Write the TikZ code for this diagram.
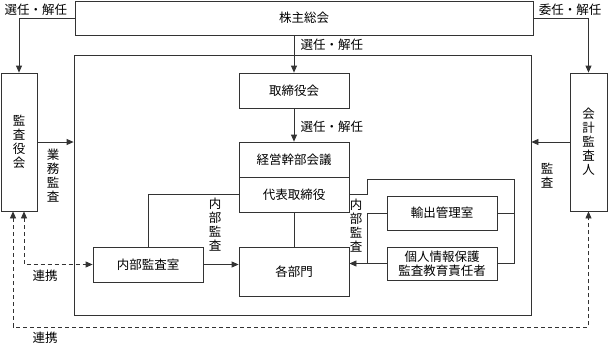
\documentclass[tikz,border=0pt]{standalone}
\usepackage{fontspec}
\setmainfont{Noto Sans CJK JP}
\usetikzlibrary{arrows.meta}

\begin{document}
\begin{tikzpicture}[x = 1pt, y = -1pt,
        every node/.style = {font = \fontsize{12.5}{14}\selectfont},
        box/.style = {draw = black!80, line width = 0.8pt, inner sep = 0pt, minimum width = 110pt, minimum height = 35pt, align = center},
        line/.style = {draw = black!80, line width = 0.8pt},
        arr/.style = {line, -{Triangle[length = 7pt, width = 6pt]}},
        link/.style = {line, dash pattern = on 4pt off 3pt, {Triangle[length = 7pt, width = 6pt]}-{Triangle[length = 7pt, width = 6pt]}},
        tate/.style = {align = center, inner sep = 0pt}]
        \useasboundingbox (0, 0) rectangle (608, 346);
        % boxes
        \node[box, minimum width = 458pt, minimum height = 34pt] (kabu) at (304, 18) {株主総会};
        \node[box, minimum width = 36pt, minimum height = 138pt] (kansa) at (19, 142) {監\\査\\役\\会};
        \node[box, minimum width = 37pt, minimum height = 138pt] (kaikei) at (588.5, 142) {会\\計\\監\\査\\人};
        \node[box, minimum width = 457pt, minimum height = 260pt] (waku) at (302.5, 185) {};
        \node[box] (tori) at (294, 90.5) {取締役会};
        \node[box] (keiei) at (294, 159.5) {経営幹部会議};
        \node[box] (daihyo) at (294, 194.5) {代表取締役};
        \node[box] (naibu) at (148, 264.5) {内部監査室};
        \node[box, minimum height = 49pt] (kaku) at (294, 271.5) {各部門};
        \node[box, minimum height = 34pt] (yushutsu) at (442, 213) {輸出管理室};
        \node[box, minimum height = 33pt] (kojin) at (442, 263.5) {個人情報保護\\監査教育責任者};
        % labels
        \node (s1) at (36, 10) {選任・解任};
        \node (s2) at (570, 10) {委任・解任};
        \node[anchor = west] (s3) at (297, 45) {選任・解任};
        \node[anchor = west] (s4) at (297, 127) {選任・解任};
        \node[tate] (gyomu) at (53, 176) {業\\務\\監\\査};
        \node[tate] (kansa2) at (547, 176) {監\\査};
        \node[tate] (nk1) at (215, 225) {内\\部\\監\\査};
        \node[tate] (nk2) at (356, 226) {内\\部\\監\\査};
        \node (renkei1) at (45, 276) {連携};
        \node (renkei2) at (45, 338) {連携};
        % connectors
        \coordinate (hl) at (367, 179);
        \coordinate (hr) at (514, 179);
        \draw[arr] (kabu.west) -| (kansa.north);
        \draw[arr] (kabu.east) -| (kaikei.north);
        \draw[arr] (tori.north |- kabu.south) -- (tori.north);
        \draw[arr] (tori.south) -- (keiei.north);
        \draw[arr] (kansa.east) -- (kansa.east -| waku.west);
        \draw[arr] (kaikei.west) -- (kaikei.west -| waku.east);
        \draw[line] (daihyo.west) -| (naibu.north);
        \draw[line] (daihyo.south) -- (kaku.north);
        \draw[arr] (naibu.east) -- (naibu.east -| kaku.west);
        \draw[line] (daihyo.east) -| (hl) -- (hr) |- (kojin.east);
        \draw[line] (yushutsu.east) -- (yushutsu.east -| hr);
        \draw[line] (yushutsu.west) -- (yushutsu.west -| hl) -- (hl |- kojin.west);
        \draw[arr] (kojin.west) -- (kojin.west -| kaku.east);
        \draw[link] ([xshift = 5pt]kansa.south) |- (naibu.west);
        \draw[link] ([xshift = -6pt]kansa.south) |- (300, 327) -| (kaikei.south);
    \end{tikzpicture}
\end{document}
